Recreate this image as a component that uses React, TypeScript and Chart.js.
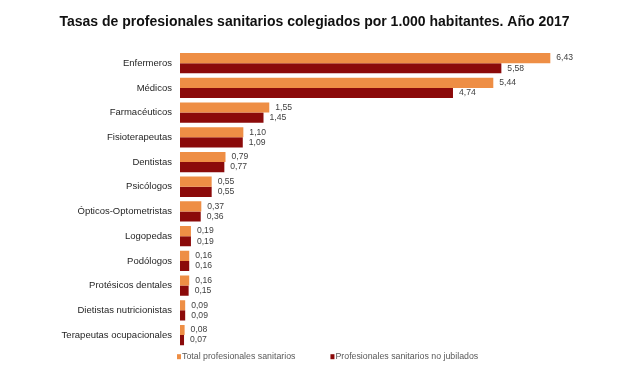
import React, { useEffect, useRef } from 'react';
import { Chart, registerables } from 'chart.js';

Chart.register(...registerables);

const categories = [
  'Enfermeros',
  'Médicos',
  'Farmacéuticos',
  'Fisioterapeutas',
  'Dentistas',
  'Psicólogos',
  'Ópticos-Optometristas',
  'Logopedas',
  'Podólogos',
  'Protésicos dentales',
  'Dietistas nutricionistas',
  'Terapeutas ocupacionales',
];
const totalValues = [6.43, 5.44, 1.55, 1.1, 0.79, 0.55, 0.37, 0.19, 0.16, 0.16, 0.09, 0.08];
const noJubiladosValues = [5.58, 4.74, 1.45, 1.09, 0.77, 0.55, 0.36, 0.19, 0.16, 0.15, 0.09, 0.07];
const seriesLabels = ['Total profesionales sanitarios', 'Profesionales sanitarios no jubilados'];
const seriesColors = ['#EE8E45', '#8B0A0A'];
const titleText = 'Tasas de profesionales sanitarios colegiados por 1.000 habitantes. Año 2017';

const FONT = '"Liberation Sans", Arial, Helvetica, sans-serif';

const valueLabels = {
  id: 'valueLabels',
  afterDatasetsDraw(chart: any) {
    const ctx = chart.ctx;
    ctx.save();
    ctx.font = `8.6px ${FONT}`;
    ctx.fillStyle = '#404040';
    ctx.textAlign = 'left';
    ctx.textBaseline = 'middle';
    chart.data.datasets.forEach((ds: any, i: number) => {
      const meta = chart.getDatasetMeta(i);
      meta.data.forEach((bar: any, j: number) => {
        const v = ds.data[j] as number;
        ctx.fillText(v.toFixed(2).replace('.', ','), bar.x + 6, bar.y);
      });
    });
    ctx.restore();
  },
};

const bottomLegend = {
  id: 'bottomLegend',
  afterDraw(chart: any) {
    const { ctx, chartArea } = chart;
    ctx.save();
    ctx.font = `8.8px ${FONT}`;
    ctx.textAlign = 'left';
    ctx.textBaseline = 'middle';
    let x = chartArea.left - 3;
    const y = chartArea.bottom + 9.3;
    chart.data.datasets.forEach((ds: any) => {
      ctx.fillStyle = ds.backgroundColor;
      ctx.fillRect(x, y - 2.5, 4, 5);
      x += 5;
      ctx.fillStyle = '#595959';
      ctx.fillText(ds.label, x, y);
      x += ctx.measureText(ds.label).width + 35;
    });
    ctx.restore();
  },
};

export default function App() {
  const ref = useRef<HTMLCanvasElement | null>(null);

  useEffect(() => {
    if (!ref.current) return;
    const chart = new Chart(ref.current, {
      type: 'bar',
      data: {
        labels: categories,
        datasets: [
          {
            label: seriesLabels[0],
            data: totalValues,
            backgroundColor: seriesColors[0],
            borderWidth: 0,
            barPercentage: 1,
            categoryPercentage: 0.82,
          },
          {
            label: seriesLabels[1],
            data: noJubiladosValues,
            backgroundColor: seriesColors[1],
            borderWidth: 0,
            barPercentage: 1,
            categoryPercentage: 0.82,
          },
        ],
      },
      options: {
        indexAxis: 'y',
        responsive: false,
        animation: false,
        layout: { padding: { left: 9, right: 0, top: 0, bottom: 20.6 } },
        plugins: {
          legend: { display: false },
          tooltip: { enabled: false },
          title: {
            display: true,
            text: titleText,
            color: '#111111',
            font: { family: FONT, size: 14, weight: 'bold' },
            padding: { top: 14, bottom: 20 },
          },
        },
        scales: {
          x: {
            display: false,
            min: 0,
            max: 7.64,
          },
          y: {
            grid: { display: false, drawTicks: false },
            border: { display: false },
            ticks: {
              color: '#1f1f1f',
              font: { family: FONT, size: 9.5 },
              padding: 8,
            },
            afterFit: (scale: any) => {
              scale.width = 171;
            },
          },
        },
      },
      plugins: [valueLabels, bottomLegend],
    });
    return () => chart.destroy();
  }, []);

  return (
    <div style={{ position: 'fixed', left: 0, top: 0, width: 620, height: 368, background: '#ffffff' }}>
      <canvas ref={ref} width={620} height={368} style={{ display: 'block' }} />
    </div>
  );
}
